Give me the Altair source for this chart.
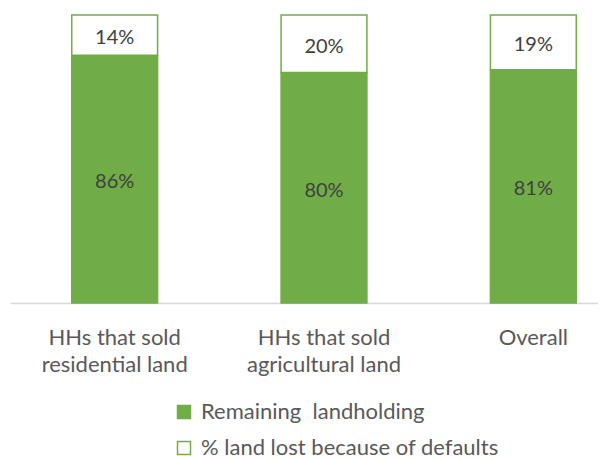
import altair as alt
import pandas as pd

categories = ["HHs that sold|residential land", "HHs that sold|agricultural land", "Overall"]
remaining = [86, 80, 81]
lost = [14, 20, 19]
series = ["Remaining\u00a0 landholding", "% land lost because of defaults"]

rows = []
for c, r, l in zip(categories, remaining, lost):
    rows.append({"category": c, "series": series[0], "value": r, "order": 0})
    rows.append({"category": c, "series": series[1], "value": l, "order": 1})
df = pd.DataFrame(rows)

GREEN = "#70AD47"
FONT = "Lato"

base = alt.Chart(df).transform_stack(
    stack="value", groupby=["category"], as_=["y0", "y1"],
    sort=[alt.SortField("order", order="ascending")]
).transform_calculate(
    mid="(datum.y0 + datum.y1) / 2",
    label="datum.value + '%'"
)

x = alt.X("category:N", sort=categories, title=None,
          scale=alt.Scale(range=[0, 628], paddingInner=0.59, paddingOuter=0.295),
          axis=alt.Axis(labelAngle=0, labelExpr="split(datum.label, '|')",
                        labelFont=FONT, labelFontSize=22, labelColor="#595959",
                        labelLineHeight=27, labelPadding=24, ticks=False,
                        domainColor="#D9D9D9", domainWidth=1.5, grid=False))

legend = alt.Legend(title=None, orient="none", legendX=163, legendY=386,
                    direction="vertical", symbolType="square",
                    symbolSize=169, symbolStrokeWidth=1.5,
                    labelFont=FONT, labelFontSize=22, labelColor="#595959",
                    labelOffset=6, rowPadding=14, labelLimit=400)

bars = base.mark_bar(strokeWidth=1.5).encode(
    x=x,
    y=alt.Y("y0:Q", scale=alt.Scale(domain=[0, 100]), axis=None),
    y2="y1:Q",
    fill=alt.Fill("series:N", sort=series,
                  scale=alt.Scale(domain=series, range=[GREEN, "white"]),
                  legend=legend),
    stroke=alt.Stroke("series:N", sort=series,
                      scale=alt.Scale(domain=series, range=[GREEN, GREEN]),
                      legend=legend),
)

texts = base.mark_text(font=FONT, fontSize=20, color="#404040", dy=3).encode(
    x=alt.X("category:N", sort=categories),
    y=alt.Y("mid:Q"),
    text="label:N",
)

chart = alt.layer(bars, texts).properties(
    width=588, height=288,
    autosize=alt.AutoSizeParams(type="none"),
    padding={"left": 2, "top": 7, "right": 0, "bottom": 156},
).configure_view(stroke=None)

chart.save("out.html", embed_options={"renderer": "svg", "actions": False})
